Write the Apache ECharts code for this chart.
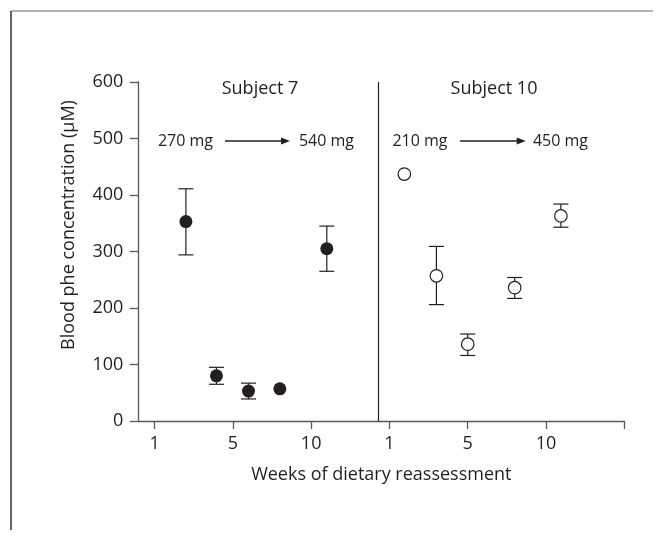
<!DOCTYPE html>
<html><head><meta charset="utf-8">
<script src="https://cdn.jsdelivr.net/npm/echarts@6/dist/echarts.min.js"></script>
<style>html,body{margin:0;padding:0;background:#fff}#c{width:664px;height:543px}</style>
</head><body><div id="c"></div>
<script>
// x positions are in evenly spaced tick units (tick k labelled xTickLabels[k])
const xTickLabels = ['1', '5', '10', '1', '5', '10', ''];
const yTicks = [0, 100, 200, 300, 400, 500, 600];
const panelDivider = 2.86;
// Subject 7 (filled)
const s7X  = [0.40, 0.79, 1.20, 1.60, 2.20];
const s7Y  = [353, 80, 53, 57, 305];
const s7Lo = [294, 65, 39, null, 265];
const s7Hi = [411, 95, 67, null, 345];
// Subject 10 (open)
const s10X  = [3.19, 3.60, 4.00, 4.60, 5.19];
const s10Y  = [437, 257, 136, 236, 363];
const s10Lo = [null, 206, 116, 217, 343];
const s10Hi = [null, 309, 154, 254, 384];
const panelTitles = ['Subject 7', 'Subject 10'];
const doseText = [['270 mg', '540 mg'], ['210 mg', '450 mg']];

const ink = '#231f20', axisCol = '#58595b';
const FONT = 'Open Sans';

function pts(xs, ys) { return xs.map((x, i) => [x, ys[i]]); }
function errs(xs, lo, hi) {
  const out = [];
  xs.forEach((x, i) => { if (lo[i] != null) out.push([x, lo[i], hi[i]]); });
  return out;
}
function errRender(params, api) {
  const x = api.value(0);
  const a = api.coord([x, api.value(1)]);
  const b = api.coord([x, api.value(2)]);
  const w = 7.5;
  const st = { stroke: ink, lineWidth: 1.2 };
  return { type: 'group', children: [
    { type: 'line', shape: { x1: a[0], y1: a[1], x2: b[0], y2: b[1] }, style: st },
    { type: 'line', shape: { x1: a[0] - w, y1: a[1], x2: a[0] + w, y2: a[1] }, style: st },
    { type: 'line', shape: { x1: b[0] - w, y1: b[1], x2: b[0] + w, y2: b[1] }, style: st }
  ]};
}

const chart = echarts.init(document.getElementById('c'), null, { renderer: 'canvas' });
const tickVals = xTickLabels.map((_, i) => i);

function arrow(x1, x2, y) {
  return [
    { type: 'line', shape: { x1: x1, y1: y, x2: x2 - 7, y2: y }, style: { stroke: ink, lineWidth: 1.3 } },
    { type: 'polygon', shape: { points: [[x2, y], [x2 - 9, y - 3.5], [x2 - 9, y + 3.5]] }, style: { fill: ink } }
  ];
}
const txt = (x, y, t, size, extra) => Object.assign({ type: 'text', x: x, y: y,
  style: { text: t, fill: ink, font: size + 'px "' + FONT + '"', align: 'center', verticalAlign: 'middle' } }, extra || {});

chart.setOption({
  animation: false,
  grid: { left: 138.3, right: 39.7, top: 82, bottom: 122 },
  xAxis: {
    type: 'value', min: -0.208, max: 6,
    splitLine: { show: false },
    axisLine: { onZero: false, lineStyle: { color: axisCol, width: 1.3 } },
    axisTick: { customValues: tickVals, length: 8, lineStyle: { color: axisCol, width: 1.3 } },
    axisLabel: { customValues: tickVals.slice(0, 6), formatter: v => xTickLabels[Math.round(v)],
      color: ink, fontSize: 18, fontFamily: FONT, margin: 14 }
  },
  yAxis: {
    type: 'value', min: 0, max: 600, interval: 100,
    splitLine: { show: false },
    axisLine: { show: true, onZero: false, lineStyle: { color: axisCol, width: 1.3 } },
    axisTick: { show: true, length: 8.5, lineStyle: { color: axisCol, width: 1.3 } },
    axisLabel: { color: ink, fontSize: 18, fontFamily: FONT, margin: 15 }
  },
  series: [
    { type: 'custom', renderItem: errRender, data: errs(s7X, s7Lo, s7Hi), encode: { x: 0, y: [1, 2] }, z: 2 },
    { type: 'custom', renderItem: errRender, data: errs(s10X, s10Lo, s10Hi), encode: { x: 0, y: [1, 2] }, z: 2 },
    { type: 'scatter', data: pts(s7X, s7Y), symbol: 'circle', symbolSize: 13,
      itemStyle: { color: ink, opacity: 1 }, z: 3,
      markLine: { silent: true, symbol: 'none', label: { show: false },
        lineStyle: { color: ink, width: 1.2, type: 'solid' },
        data: [{ xAxis: panelDivider }] } },
    { type: 'scatter', data: pts(s10X, s10Y), symbol: 'circle', symbolSize: 12.5,
      itemStyle: { color: '#fff', borderColor: ink, borderWidth: 1.2, opacity: 1 }, z: 3 }
  ],
  graphic: [
    { type: 'line', shape: { x1: 11, y1: 11, x2: 653, y2: 11 }, style: { stroke: '#9a9a9a', lineWidth: 1.5 } },
    { type: 'line', shape: { x1: 11, y1: 11, x2: 11, y2: 530 }, style: { stroke: '#333', lineWidth: 1.5 } },
    txt(260, 89, panelTitles[0], 18),
    txt(494, 89, panelTitles[1], 18),
    txt(185.5, 141, doseText[0][0], 16),
    txt(326.5, 141, doseText[0][1], 16),
    txt(420, 141, doseText[1][0], 16),
    txt(560.5, 141, doseText[1][1], 16),
    ...arrow(225, 290, 141),
    ...arrow(460, 525.7, 141),
    txt(381.3, 475, 'Weeks of dietary reassessment', 18),
    txt(69, 225, 'Blood phe concentration (µM)', 18, { rotation: Math.PI / 2 })
  ]
});
</script></body></html>
